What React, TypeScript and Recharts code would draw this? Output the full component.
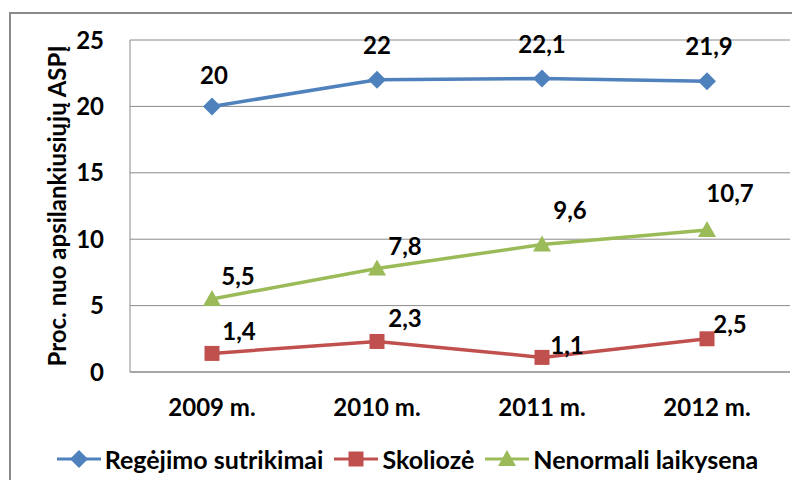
import { LineChart, Line, XAxis, YAxis, CartesianGrid, Legend, LabelList } from 'recharts';

const years = ['2009 m.', '2010 m.', '2011 m.', '2012 m.'];
const vision = [20, 22, 22.1, 21.9];
const scoliosis = [1.4, 2.3, 1.1, 2.5];
const posture = [5.5, 7.8, 9.6, 10.7];
const yTicks = [0, 5, 10, 15, 20, 25];

const data = years.map((year, i) => ({
  year,
  vision: vision[i],
  scoliosis: scoliosis[i],
  posture: posture[i]
}));

const FONT = 'Lato, "Open Sans", sans-serif';
const BLUE = '#4F81BD';
const RED = '#C0504D';
const GREEN = '#9BBB59';

// label nudges as placed in the original chart
const labelShift: Record<string, Array<[number, number]>> = {
  vision: [[2, -32], [0, -35], [0, -35], [2, -36]],
  scoliosis: [[27, -23], [28, -24], [25, -13], [23, -15]],
  posture: [[26, -23], [28, -23], [28, -35], [23, -37]]
};

const fmt = (v: number) => String(v).replace('.', ',');

const makeLabel = (key: string) => (props: any) => {
  const { x, y, value, index } = props;
  const [dx, dy] = labelShift[key][index] || [0, -25];
  return (
    <text
      x={x + dx}
      y={y + dy}
      textAnchor="middle"
      dominantBaseline="central"
      fontFamily={FONT}
      fontWeight="bold"
      fontSize={24}
      fill="#000"
    >
      {fmt(value)}
    </text>
  );
};

const Marker = ({ shape, cx, cy, color }: { shape: string; cx: number; cy: number; color: string }) => {
  if (shape === 'diamond') {
    return <polygon points={`${cx},${cy - 9} ${cx + 9},${cy} ${cx},${cy + 9} ${cx - 9},${cy}`} fill={color} />;
  }
  if (shape === 'square') {
    return <rect x={cx - 7.5} y={cy - 7.5} width={15} height={15} fill={color} />;
  }
  return <polygon points={`${cx},${cy - 9} ${cx + 9},${cy + 7} ${cx - 9},${cy + 7}`} fill={color} />;
};

const makeDot = (shape: string, color: string) => (props: any) => {
  const { cx, cy, index } = props;
  return <Marker key={`${shape}-${index}`} shape={shape} cx={cx} cy={cy} color={color} />;
};

const legendItems = [
  { name: 'Regėjimo sutrikimai', color: BLUE, shape: 'diamond' },
  { name: 'Skoliozė', color: RED, shape: 'square' },
  { name: 'Nenormali laikysena', color: GREEN, shape: 'triangle' }
];

const LegendContent = () => (
  <div style={{ display: 'flex', justifyContent: 'center', gap: 10, fontFamily: FONT, fontWeight: 'bold', fontSize: 25, paddingLeft: 24 }}>
    {legendItems.map((item) => (
      <div key={item.name} style={{ display: 'flex', alignItems: 'center' }}>
        <svg width={46} height={20} style={{ marginRight: 3 }}>
          <line x1={1} y1={10} x2={45} y2={10} stroke={item.color} strokeWidth={3} />
          <Marker shape={item.shape} cx={23} cy={10} color={item.color} />
        </svg>
        <span style={{ color: '#000' }}>{item.name}</span>
      </div>
    ))}
  </div>
);

export default function App() {
  return (
    <div style={{ position: 'relative', width: 800, height: 488, margin: -8, background: '#fff', overflow: 'hidden' }}>
      <div
        style={{
          position: 'absolute',
          left: 9,
          top: 12,
          width: 800,
          height: 500,
          borderLeft: '2px solid #8a8a8a',
          borderTop: '2px solid #8a8a8a'
        }}
      />
      <div style={{ position: 'absolute', left: 0, top: 0 }}>
        <LineChart width={800} height={488} data={data} margin={{ top: 40, right: 10, bottom: 10, left: 0 }}>
          <CartesianGrid vertical={false} stroke="#8a8a8a" />
          <XAxis
            dataKey="year"
            tickLine={false}
            axisLine={{ stroke: '#8a8a8a' }}
            padding={{ left: 82, right: 83 }}
            tickSize={0}
            tickMargin={27}
            height={76}
            tick={{ fontFamily: FONT, fontWeight: 'bold', fontSize: 24, fill: '#000' }}
          />
          <YAxis
            domain={[0, 25]}
            ticks={yTicks}
            width={130}
            tickLine={false}
            axisLine={{ stroke: '#8a8a8a' }}
            tickSize={0}
            tickMargin={26}
            tick={{ fontFamily: FONT, fontWeight: 'bold', fontSize: 24, fill: '#000' }}
            label={{
              value: 'Proc. nuo apsilankiusiųjų ASPĮ',
              angle: -90,
              position: 'insideLeft',
              offset: 57,
              style: { fontFamily: FONT, fontWeight: 'bold', fontSize: 24, fill: '#000', textAnchor: 'middle' }
            }}
          />
          <Legend verticalAlign="bottom" content={<LegendContent />} wrapperStyle={{ bottom: 14 }} />
          <Line dataKey="vision" stroke={BLUE} strokeWidth={3.5} dot={makeDot('diamond', BLUE)} isAnimationActive={false}>
            <LabelList dataKey="vision" content={makeLabel('vision')} />
          </Line>
          <Line dataKey="scoliosis" stroke={RED} strokeWidth={3.5} dot={makeDot('square', RED)} isAnimationActive={false}>
            <LabelList dataKey="scoliosis" content={makeLabel('scoliosis')} />
          </Line>
          <Line dataKey="posture" stroke={GREEN} strokeWidth={3.5} dot={makeDot('triangle', GREEN)} isAnimationActive={false}>
            <LabelList dataKey="posture" content={makeLabel('posture')} />
          </Line>
        </LineChart>
      </div>
    </div>
  );
}
